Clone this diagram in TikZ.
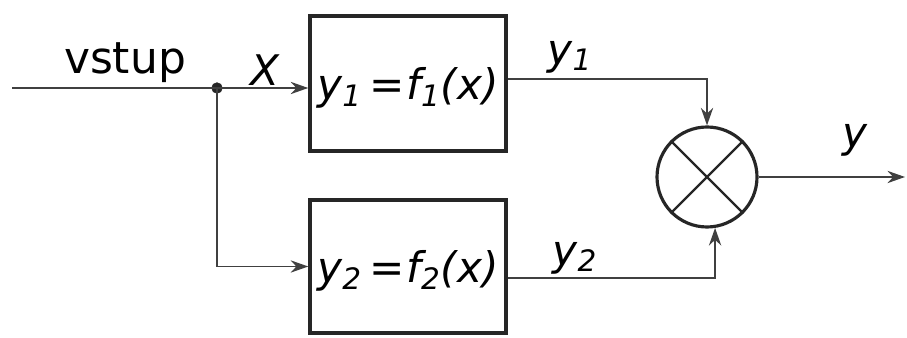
\documentclass[tikz,border=0pt]{standalone}
\usepackage{fontspec}
\setmainfont{DejaVu Sans}
\usetikzlibrary{arrows.meta}
\tikzset{
  block/.style={draw=black!85, line width=2pt, minimum width=3.92cm, minimum height=2.7cm, inner sep=0pt},
  wire/.style={draw=black!75, line width=1pt},
  sig/.style={wire, -{Stealth[length=10pt,width=7pt]}},
  lbl/.style={font=\fontsize{24}{28}\selectfont\itshape}
}
\newcommand{\fn}[1]{\raisebox{-0.33cm}[0pt][0pt]{\fontsize{24}{28}\selectfont\itshape y\textsubscript{#1}\,=\kern1pt f\textsubscript{#1}(x)}}
\begin{document}
\begin{tikzpicture}
  \useasboundingbox (0,0) rectangle (18.14,6.76);

  \node[block] (f1) at (8.16,5.09) {\fn{1}};
  \node[block, minimum height=2.66cm] (f2) at (8.16,1.43) {\fn{2}};
  \node[circle, draw=black!85, line width=1.8pt, minimum size=2cm, inner sep=0pt] (sum) at (14.14,3.22) {};
  \draw[black!85, line width=1.3pt] (sum.45) -- (sum.225) (sum.135) -- (sum.-45);

  \coordinate (in) at (0.24,5.0);
  \coordinate (split) at (4.34,5.0);
  \coordinate (out) at (18.1,3.22);
  \filldraw[black!85] (split) circle (3pt);

  \draw[wire] (in) -- (split);
  \draw[sig] (split) -- (f1.west |- split);
  \draw[sig] (split) |- (f2.west);
  \draw[sig] (f1.east |- 0,5.18) -| (sum.north);
  \draw[sig] (f2.east |- 0,1.2) -| (sum.-81);
  \draw[sig] (sum.east) -- (out);

  \node[font=\fontsize{25}{28}\selectfont] (vstup) at (2.5,5.5) {vstup};
  \node[lbl] (xlbl) at (5.3,5.35) {X};
  \node[lbl] (y1lbl) at (11.4,5.62) {y\textsubscript{1}};
  \node[lbl] (y2lbl) at (11.5,1.6) {y\textsubscript{2}};
  \node[lbl] (ylbl) at (17.1,3.95) {y};
\end{tikzpicture}
\end{document}
